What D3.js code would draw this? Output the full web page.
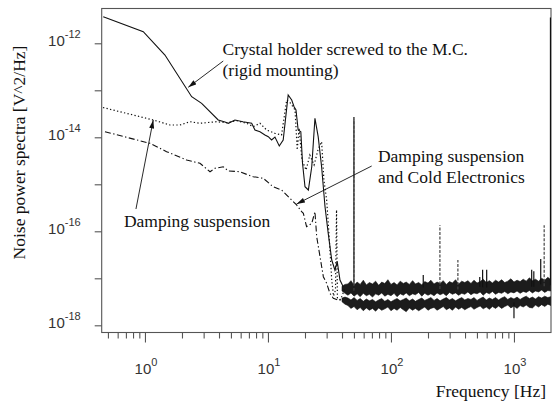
<!DOCTYPE html>
<html>
<head>
<meta charset="utf-8">
<script src="https://cdn.jsdelivr.net/npm/d3@7"></script>
<style>
  body { margin: 0; background: #fff; }
  svg text { font-family: "Liberation Serif", "Times New Roman", serif; fill: #111; }
  .tick-label { font-family: "Liberation Sans", Arial, sans-serif; fill: #333; }
  .axis path, .axis line { stroke: #555; stroke-width: 1.1; }
</style>
</head>
<body>
<script>
// data: frequency [Hz] and log10 of the noise power [V^2/Hz]

// solid: crystal holder screwed to the M.C. (rigid mounting)
var rigidFreq = [0.458, 0.969, 1.454, 2.398, 2.89, 3.94, 4.47, 4.76, 5.39, 6.26, 7.37, 7.84, 8.61, 9.45, 10.06,
    10.7, 11.4, 12.36, 13.3, 14.6, 15.6, 16.3, 16.9, 17.6, 18.5, 19.1, 20.0, 21.3, 22.7, 24.1, 25.6, 27.3,
    29.1, 30.9, 33.0, 35.0, 36.6, 38.5, 40.9];
var rigidExp = [-11.434, -11.753, -12.249, -13.136, -13.277, -13.632, -13.674, -13.702, -13.632, -13.668, -13.702,
    -13.845, -13.881, -13.951, -13.987, -14.057, -13.994, -14.185, -14.057, -13.100, -13.206, -13.349, -13.419,
    -13.845, -13.881, -14.553, -15.051, -15.121, -14.626, -13.596, -13.987, -14.626, -15.477, -16.043, -16.611,
    -16.823, -16.647, -17.036, -17.179];

// dotted: damping suspension
var dampedFreq = [0.456, 1.168, 1.597, 1.926, 2.32, 2.80, 3.83, 4.62, 5.57, 6.71, 7.59, 8.61, 9.76, 11.4, 12.9,
    14.2, 15.3, 16.6, 17.3, 17.9, 18.9, 20.4, 21.9, 23.7, 25.5, 27.3, 28.5, 30.0, 31.0, 31.9, 33.0, 34.1,
    35.4, 36.1, 36.7, 38.5, 40.0, 42.3];
var dampedExp = [-13.366, -13.632, -13.738, -13.738, -13.668, -13.702, -13.668, -13.689, -13.647, -13.702, -13.774,
    -13.702, -13.845, -13.915, -13.951, -13.206, -13.277, -13.419, -14.270, -13.802, -14.483, -14.696, -14.377,
    -14.589, -14.270, -14.094, -14.909, -15.334, -15.866, -16.398, -17.036, -17.377, -17.249, -15.547, -17.419,
    -17.461, -17.377, -17.206];

// dash-dot: damping suspension and cold electronics
var coldFreq = [0.473, 1.098, 1.50, 2.18, 2.80, 3.38, 3.71, 4.33, 4.76, 5.92, 6.92, 7.59, 9.16, 11.0, 12.9,
    15.1, 17.1, 18.8, 19.4, 20.6, 22.7, 24.1, 24.9, 26.5, 28.2, 30.0, 31.9, 34.0, 37.3, 40.9];
var coldExp = [-13.881, -14.128, -14.306, -14.483, -14.553, -14.732, -14.660, -14.626, -14.717, -14.732, -14.802,
    -14.838, -14.872, -15.051, -15.121, -15.298, -15.440, -15.583, -15.617, -15.902, -15.830, -15.583, -16.115,
    -16.540, -16.966, -17.106, -17.319, -17.426, -17.462, -17.426];

// noise floor bands above ~40 Hz (top and bottom edge of each band)
var bandFreq = [40.0, 42.3, 44.7, 47.3, 50.1, 53.1, 56.2, 59.6, 63.1, 66.8, 70.8, 75.0, 79.4, 84.1, 89.1, 94.4,
    100, 106, 112, 119, 126, 133, 141, 150, 158, 168, 178, 188, 200, 211, 224, 237, 251, 266, 282, 299, 316,
    335, 355, 376, 398, 422, 447, 473, 501, 531, 562, 596, 631, 668, 708, 750, 794, 841, 891, 944, 1000, 1059,
    1122, 1189, 1259, 1334, 1413, 1496, 1585, 1679, 1778, 1884, 1995];
var upperTop = [-17.17, -17.13,
    -17.12, -17.05, -17.15, -17.08, -17.13, -17.04, -17.14, -17.09, -17.12, -17.06,
    -17.15, -17.08, -17.11, -17.03, -17.13, -17.09, -17.14, -17.06, -17.11, -17.08,
    -17.13, -17.05, -17.12, -17.09, -17.14, -17.07, -17.10, -17.04, -17.12, -17.08,
    -17.11, -17.05, -17.13, -17.07, -17.10, -17.03, -17.12, -17.06, -17.09, -17.05,
    -17.11, -17.04, -17.10, -17.07, -17.02, -17.09, -17.05, -17.10, -17.04, -17.08,
    -17.03, -17.09, -17.06, -17.01, -17.08, -17.04, -17.07, -17.02, -17.06, -16.99,
    -17.05, -17.02, -17.06, -17.00, -17.04, -16.98, -17.03];
var upperBottom = [-17.27, -17.32,
    -17.36, -17.31, -17.38, -17.33, -17.39, -17.32, -17.37, -17.34, -17.40, -17.33,
    -17.36, -17.31, -17.38, -17.34, -17.37, -17.32, -17.39, -17.33, -17.36, -17.31,
    -17.37, -17.33, -17.35, -17.30, -17.38, -17.32, -17.36, -17.33, -17.37, -17.31,
    -17.35, -17.32, -17.37, -17.30, -17.34, -17.31, -17.36, -17.32, -17.34, -17.29,
    -17.35, -17.31, -17.33, -17.29, -17.36, -17.30, -17.33, -17.28, -17.34, -17.30,
    -17.32, -17.28, -17.33, -17.29, -17.31, -17.27, -17.32, -17.28, -17.30, -17.26,
    -17.31, -17.27, -17.29, -17.25, -17.30, -17.26, -17.27];
var lowerTop = [-17.42, -17.40,
    -17.42, -17.46, -17.41, -17.47, -17.43, -17.49, -17.44, -17.48, -17.45, -17.50,
    -17.46, -17.43, -17.49, -17.45, -17.50, -17.46, -17.43, -17.48, -17.45, -17.42,
    -17.48, -17.44, -17.49, -17.45, -17.42, -17.47, -17.44, -17.41, -17.47, -17.43,
    -17.48, -17.44, -17.41, -17.46, -17.43, -17.48, -17.44, -17.41, -17.46, -17.43,
    -17.45, -17.41, -17.47, -17.43, -17.40, -17.46, -17.42, -17.45, -17.41, -17.46,
    -17.42, -17.39, -17.45, -17.41, -17.44, -17.40, -17.45, -17.41, -17.38, -17.43,
    -17.40, -17.44, -17.39, -17.42, -17.38, -17.41, -17.39];
var lowerBottom = [-17.50, -17.55,
    -17.58, -17.64, -17.60, -17.67, -17.62, -17.69, -17.63, -17.68, -17.64, -17.70,
    -17.63, -17.68, -17.65, -17.61, -17.69, -17.64, -17.68, -17.62, -17.67, -17.71,
    -17.63, -17.68, -17.64, -17.69, -17.65, -17.61, -17.68, -17.64, -17.62, -17.68,
    -17.64, -17.60, -17.67, -17.63, -17.68, -17.61, -17.66, -17.62, -17.67, -17.63,
    -17.60, -17.66, -17.62, -17.59, -17.65, -17.61, -17.66, -17.60, -17.64, -17.59,
    -17.64, -17.60, -17.57, -17.63, -17.59, -17.64, -17.58, -17.61, -17.57, -17.62,
    -17.63, -17.57, -17.61, -17.56, -17.60, -17.55, -17.58];

// line spikes (peak level) sitting on the bands
var rigidSpikeFreq = [50, 183, 527, 556, 600, 1393, 1450, 1650, 1980];
var rigidSpikeExp = [-13.57, -16.93, -16.97, -16.82, -16.82, -16.82, -16.85, -16.59, -11.45];
var dampedSpikeFreq = [50, 250, 350, 1760];
var dampedSpikeExp = [-13.62, -15.87, -16.61, -15.87];
var coldSpikeFreq = [1000];
var coldSpikeExp = [-17.85];

// axis ticks
var xMajor = [1, 10, 100, 1000];
var xMinor = [0.5, 0.6, 0.7, 0.8, 0.9, 2, 3, 4, 5, 6, 7, 8, 9, 20, 30, 40, 50, 60, 70, 80, 90,
    200, 300, 400, 500, 600, 700, 800, 900];
var yDecades = [-12, -13, -14, -15, -16, -17, -18];
var yLabelled = [-12, -14, -16, -18];

//---------setup plot-----------------------//
var margin = {top: 8.5, right: 1, bottom: 75.5, left: 101.7},
    width = 552 - margin.left - margin.right,
    height = 408 - margin.top - margin.bottom;

function pow10(e) { return Math.pow(10, e); }

var x = d3.scaleLog().domain([0.445, 2000]).range([0, width]);
var y = d3.scaleLog().domain([7.03e-19, 5.5e-12]).range([height, 0]);

var svg = d3.select("body").append("svg")
    .attr("width", 552)
    .attr("height", 408)
    .append("g")
    .attr("transform", "translate(" + margin.left + "," + margin.top + ")");

svg.append("defs").append("clipPath").attr("id", "plotclip")
    .append("rect").attr("width", width).attr("height", height);

svg.select("defs").append("marker")
    .attr("id", "arrow")
    .attr("viewBox", "0 0 10 6")
    .attr("refX", 10).attr("refY", 3)
    .attr("markerWidth", 9).attr("markerHeight", 5)
    .attr("markerUnits", "userSpaceOnUse")
    .attr("orient", "auto")
    .append("path").attr("d", "M0,0 L10,3 L0,6 Z").attr("fill", "#111");

// frame
svg.append("rect")
    .attr("width", width).attr("height", height)
    .attr("fill", "none").attr("stroke", "#555").attr("stroke-width", 1.1);

// x-axis
var xAxis = svg.append("g")
    .attr("class", "axis")
    .attr("transform", "translate(0," + height + ")")
    .call(d3.axisBottom(x).tickValues(xMajor.concat(xMinor)).tickSize(6).tickSizeOuter(0).tickFormat(""));
xAxis.select(".domain").remove();
xAxis.selectAll(".tick line").attr("y2", function (d) { return xMajor.indexOf(d) >= 0 ? 10 : 6; });

xMajor.forEach(function (d) {
    var t = svg.append("text")
        .attr("class", "tick-label")
        .attr("x", x(d) + 1)
        .attr("y", height + 41.5)
        .attr("text-anchor", "middle")
        .style("font-size", "15px");
    t.append("tspan").text("10");
    t.append("tspan").attr("dy", -8).style("font-size", "11px").text(String(Math.round(Math.log10(d))));
});

// y-axis
var yAxis = svg.append("g")
    .attr("class", "axis")
    .call(d3.axisLeft(y).tickValues(yDecades.map(pow10)).tickSize(7).tickSizeOuter(0).tickFormat(""));
yAxis.select(".domain").remove();

yLabelled.forEach(function (e) {
    var t = svg.append("text")
        .attr("class", "tick-label")
        .attr("x", -21)
        .attr("y", y(pow10(e)) + 3)
        .attr("text-anchor", "end")
        .style("font-size", "15px");
    t.append("tspan").text("10");
    t.append("tspan").attr("dy", -8).style("font-size", "11px").text(String(e));
});

// axis labels
svg.append("text")
    .attr("transform", "rotate(-90)")
    .attr("x", -144)
    .attr("y", -77)
    .attr("text-anchor", "middle")
    .style("font-size", "17.5px")
    .text("Noise power spectra [V^2/Hz]");

svg.append("text")
    .attr("x", width - 5)
    .attr("y", height + 64)
    .attr("text-anchor", "end")
    .style("font-size", "17.5px")
    .text("Frequency [Hz]");

//-------------data----------//
var plot = svg.append("g").attr("clip-path", "url(#plotclip)");

var valueline = d3.line()
    .x(function (d) { return x(d[0]); })
    .y(function (d) { return y(pow10(d[1])); });

var bandArea = d3.area()
    .x(function (d) { return x(d.f); })
    .y0(function (d) { return y(pow10(d.lo)); })
    .y1(function (d) { return y(pow10(d.hi)); });

var upperBand = bandFreq.map(function (f, i) { return {f: f, hi: upperTop[i], lo: upperBottom[i]}; });
var lowerBand = bandFreq.map(function (f, i) { return {f: f, hi: lowerTop[i], lo: lowerBottom[i]}; });

[upperBand, lowerBand].forEach(function (band) {
    plot.append("path")
        .datum(band)
        .attr("d", bandArea)
        .attr("fill", "#1c1c1c")
        .attr("stroke", "#111")
        .attr("stroke-width", 0.6);
});

// spikes start from the middle of the band under them
function bandMid(band, f) {
    var i = d3.leastIndex(band, function (a, b) {
        return Math.abs(Math.log(a.f / f)) - Math.abs(Math.log(b.f / f));
    });
    return (band[i].hi + band[i].lo) / 2;
}

function drawSpikes(freqs, exps, band, dash, colour) {
    plot.selectAll(null)
        .data(d3.zip(freqs, exps))
        .enter().append("line")
        .attr("x1", function (d) { return x(d[0]); })
        .attr("x2", function (d) { return x(d[0]); })
        .attr("y1", function (d) { return y(pow10(bandMid(band, d[0]))); })
        .attr("y2", function (d) { return y(pow10(d[1])); })
        .attr("stroke", colour)
        .attr("stroke-width", 1.2)
        .attr("stroke-dasharray", dash);
}
drawSpikes(rigidSpikeFreq, rigidSpikeExp, upperBand, null, "#111");
drawSpikes(dampedSpikeFreq, dampedSpikeExp, upperBand, "3,1.5", "#444");
drawSpikes(coldSpikeFreq, coldSpikeExp, lowerBand, null, "#111");

plot.append("path")
    .datum(d3.zip(dampedFreq, dampedExp))
    .attr("d", valueline)
    .attr("fill", "none")
    .attr("stroke", "#111")
    .attr("stroke-width", 1.2)
    .attr("stroke-dasharray", "1.3,2.3");

plot.append("path")
    .datum(d3.zip(coldFreq, coldExp))
    .attr("d", valueline)
    .attr("fill", "none")
    .attr("stroke", "#111")
    .attr("stroke-width", 1.1)
    .attr("stroke-dasharray", "6,2.5,1.3,2.5");

plot.append("path")
    .datum(d3.zip(rigidFreq, rigidExp))
    .attr("d", valueline)
    .attr("fill", "none")
    .attr("stroke", "#111")
    .attr("stroke-width", 1.1);

//-------------annotations----------//
var notes = [
    {lines: ["Crystal holder screwed to the M.C.", "(rigid mounting)"], f: 4.27, e: -12.249,
        tail: [4.33, -12.377], head: [2.25, -12.936]},
    {lines: ["Damping suspension", "and Cold Electronics"], f: 78.4, e: -14.519,
        tail: [69.7, -14.611], head: [17.1, -15.419]},
    {lines: ["Damping suspension"], f: 0.675, e: -15.902,
        tail: [0.845, -15.526], head: [1.168, -13.632]}
];

notes.forEach(function (n) {
    var t = svg.append("text")
        .attr("x", x(n.f))
        .attr("y", y(pow10(n.e)))
        .style("font-size", "17.5px");
    n.lines.forEach(function (s, i) {
        t.append("tspan").attr("x", x(n.f)).attr("dy", i === 0 ? 0 : 21).text(s);
    });
    svg.append("line")
        .attr("x1", x(n.tail[0])).attr("y1", y(pow10(n.tail[1])))
        .attr("x2", x(n.head[0])).attr("y2", y(pow10(n.head[1])))
        .attr("stroke", "#111")
        .attr("stroke-width", 0.9)
        .attr("marker-end", "url(#arrow)");
});
</script>
</body>
</html>
